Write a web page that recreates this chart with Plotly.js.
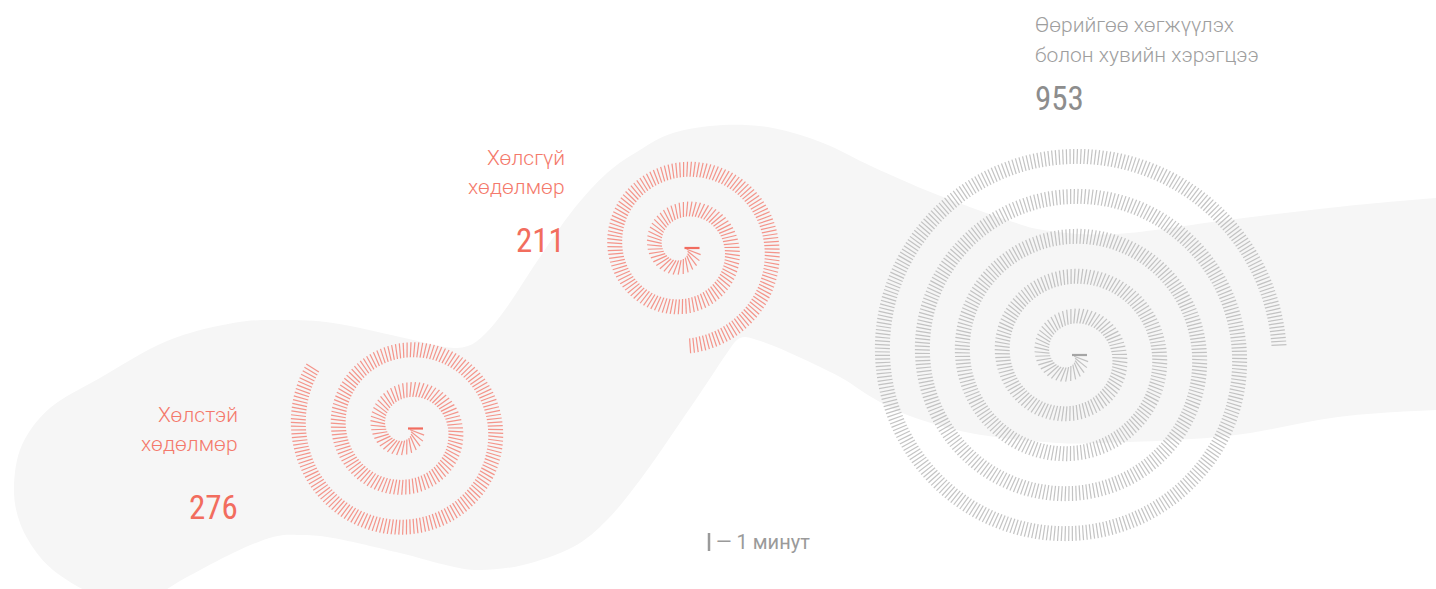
<!DOCTYPE html>
<html><head><meta charset="utf-8">
<script src="https://cdn.plot.ly/plotly-3.0.1.min.js"></script>
<style>html,body{margin:0;padding:0;background:#fff;}#chart{width:1436px;height:589px;}</style>
</head><body><div id="chart"></div>
<script>
// ---- data ----
const categories = ["Хөлстэй хөдөлмөр", "Хөлсгүй хөдөлмөр", "Өөрийгөө хөгжүүлэх болон хувийн хэрэгцээ"];
const labelLine1 = ["Хөлстэй", "Хөлсгүй", "Өөрийгөө хөгжүүлэх"];
const labelLine2 = ["хөдөлмөр", "хөдөлмөр", "болон хувийн хэрэгцээ"];
const minutes = [276, 211, 953];
const legendLabel = "— 1 минут";

// ---- styling / layout ----
const tickColors = ["rgba(243,110,96,0.72)", "rgba(243,110,96,0.72)", "rgba(185,185,185,0.85)"];
const firstTickColors = ["rgba(240,100,86,0.95)", "rgba(240,100,86,0.95)", "rgba(160,160,160,0.95)"];
const labelColors = ["#f4796b", "#f4796b", "#9e9e9e"];
const numberColors = ["#f26d5e", "#f26d5e", "#8d8d8d"];
const centers = [[407, 428.5], [683.5, 248], [1071, 355]];
const LABEL_FONT = "Roboto, sans-serif";
const NUM_FONT = "Liberation Sans Narrow, Roboto Condensed, Arial Narrow, Roboto, sans-serif";
const A = 8.5, B = 40 / (2 * Math.PI), STEP = 3.57, TICK = 15;

function tickCoords(i, cx, cy) {
  const s = i * STEP;
  const th = (-A + Math.sqrt(A * A + 2 * B * s)) / B;
  const r = A + B * th;
  const c = Math.cos(th), sn = Math.sin(th);
  return [[cx + (r - TICK / 2) * c, cx + (r + TICK / 2) * c], [cy + (r - TICK / 2) * sn, cy + (r + TICK / 2) * sn]];
}
function spiralTrace(n, cx, cy, color) {
  const xs = [], ys = [];
  for (let i = 1; i < n; i++) {
    const t = tickCoords(i, cx, cy);
    xs.push(t[0][0], t[0][1], null);
    ys.push(t[1][0], t[1][1], null);
  }
  return {type: "scatter", mode: "lines", x: xs, y: ys, hoverinfo: "skip",
          line: {color: color, width: 1.2}, showlegend: false};
}
function firstTickTrace(cx, cy, color) {
  const t = tickCoords(0, cx, cy);
  return {type: "scatter", mode: "lines", x: t[0], y: t[1], hoverinfo: "skip",
          line: {color: color, width: 2.2}, showlegend: false};
}

const traces = [];
minutes.forEach((m, i) => {
  traces.push(spiralTrace(m, centers[i][0], centers[i][1], tickColors[i]));
  traces.push(firstTickTrace(centers[i][0], centers[i][1], firstTickColors[i]));
});

// background band outline
const blob = [[14,487],[22,445],[50,408],[100,378],[167,341],[233,323],[283,320],[333,323],[400,337],[445,347],[468,346],[486,333],[507,307],[540,257],[573,210],[607,173],[640,150],[673,133],[723,125],[773,128],[823,143],[873,167],[933,193],[1007,220],[1050,231],[1117,234],[1228,220],[1338,207],[1436,198],[1490,196],[1490,410],[1436,410],[1338,417],[1228,436],[1100,443],[1044,442],[970,433],[910,416],[873,398],[840,377],[790,353],[757,340],[740,338],[727,353],[707,383],[673,433],[640,480],[607,520],[573,547],[523,565],[480,570],[450,566],[400,553],[333,538],[300,535],[273,537],[233,553],[187,577],[150,596],[100,595],[67,580],[40,557],[20,523]];
function smoothPath(pts) {
  const n = pts.length;
  let d = "M" + pts[0][0] + "," + pts[0][1];
  for (let i = 0; i < n; i++) {
    const p0 = pts[(i - 1 + n) % n], p1 = pts[i], p2 = pts[(i + 1) % n], p3 = pts[(i + 2) % n];
    const c1 = [p1[0] + (p2[0] - p0[0]) / 6, p1[1] + (p2[1] - p0[1]) / 6];
    const c2 = [p2[0] - (p3[0] - p1[0]) / 6, p2[1] - (p3[1] - p1[1]) / 6];
    d += " C" + c1[0].toFixed(1) + "," + c1[1].toFixed(1) + " " + c2[0].toFixed(1) + "," + c2[1].toFixed(1) + " " + p2[0] + "," + p2[1];
  }
  return d + " Z";
}

const labelPos = [
  {x: 240, y1: 415, y2: 444, yn: 507, anchor: "right"},
  {x: 567, y1: 158, y2: 187, yn: 240, anchor: "right"},
  {x: 1033, y1: 25, y2: 55, yn: 98, anchor: "left"}
];
const annotations = [];
labelPos.forEach((p, i) => {
  annotations.push({x: p.x, y: p.y1, xref: "x", yref: "y", text: labelLine1[i], showarrow: false,
    xanchor: p.anchor, yanchor: "middle", font: {family: LABEL_FONT, weight: 300, size: 21, color: labelColors[i]}});
  annotations.push({x: p.x, y: p.y2, xref: "x", yref: "y", text: labelLine2[i], showarrow: false,
    xanchor: p.anchor, yanchor: "middle", font: {family: LABEL_FONT, weight: 300, size: 21, color: labelColors[i]}});
  annotations.push({x: p.x, y: p.yn, xref: "x", yref: "y", text: String(minutes[i]), showarrow: false,
    xanchor: p.anchor, yanchor: "middle", font: {family: NUM_FONT, size: 33, color: numberColors[i]}});
});
annotations.push({x: 714, y: 542, xref: "x", yref: "y", text: legendLabel, showarrow: false,
  xanchor: "left", yanchor: "middle", font: {family: LABEL_FONT, size: 20, color: "#9a9a9a"}});

const layout = {
  width: 1436, height: 589,
  margin: {l: 0, r: 0, t: 0, b: 0, pad: 0},
  paper_bgcolor: "#ffffff", plot_bgcolor: "#ffffff",
  xaxis: {range: [0, 1436], visible: false, fixedrange: true},
  yaxis: {range: [589, 0], visible: false, fixedrange: true},
  hovermode: false,
  shapes: [
    {type: "path", xref: "x", yref: "y", path: smoothPath(blob), fillcolor: "#f6f6f6", line: {width: 0}, layer: "below"},
    {type: "line", xref: "x", yref: "y", x0: 709, x1: 709, y0: 533, y1: 551, line: {color: "#9a9a9a", width: 2.5}}
  ],
  annotations: annotations
};
Plotly.newPlot("chart", traces, layout, {displayModeBar: false, staticPlot: true});
</script>
</body></html>
